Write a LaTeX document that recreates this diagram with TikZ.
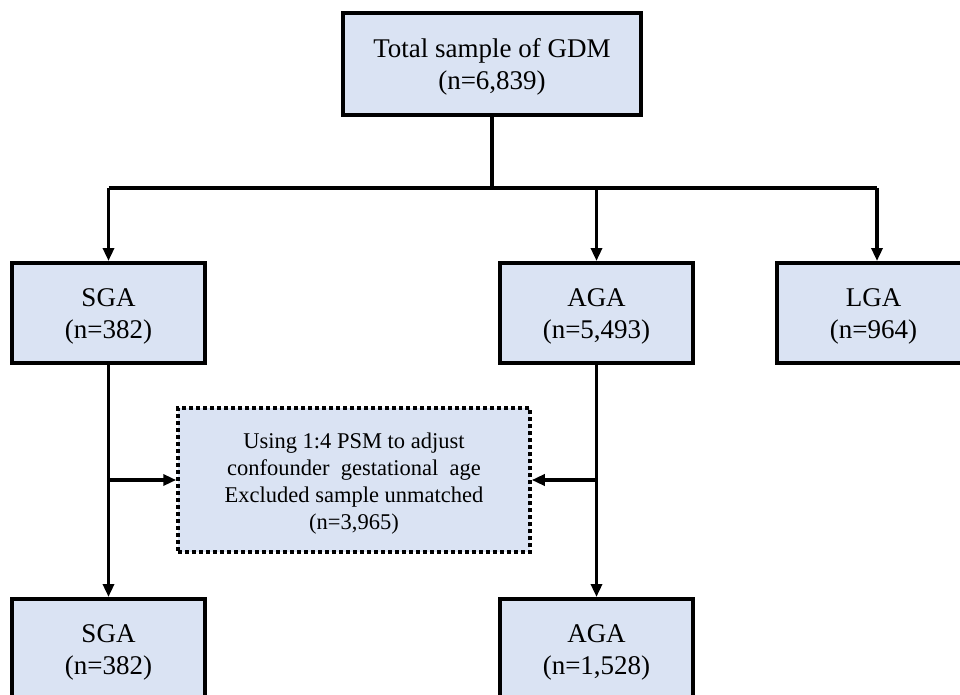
\documentclass[tikz,border=0pt]{standalone}
\usepackage{fontspec}
\setmainfont{Liberation Serif}
\usetikzlibrary{arrows.meta}
\definecolor{boxfill}{HTML}{DAE3F3}
\newcommand{\boxtxt}[1]{\raisebox{-3.5pt}[\height][\depth]{\begin{tabular}{@{}c@{}}#1\end{tabular}}}
\tikzset{
  box/.style={draw=black, line width=4pt, fill=boxfill, rectangle, inner sep=0pt,
    minimum width=193pt, minimum height=100pt, align=center,
    font=\fontsize{27}{32}\selectfont},
  psmbox/.style={draw=black, line width=3.5pt, dash pattern=on 4pt off 3pt, fill=boxfill,
    rectangle, inner sep=0pt, minimum width=352pt, minimum height=144pt, align=center,
    font=\fontsize{22.5}{27}\selectfont},
  conn/.style={line width=3.5pt},
  arr/.style={line width=3.5pt, -{Triangle[length=13pt,width=11pt]}}
}
\begin{document}
\begin{tikzpicture}[x=1pt,y=-1pt]
\clip (0,0) rectangle (960,695);
\node[box, minimum width=298pt, minimum height=102pt] (top) at (492,64) {\boxtxt{Total sample of GDM\\(n=6,839)}};
\node[box] (sga1) at (108.5,313) {\boxtxt{SGA\\(n=382)}};
\node[box] (aga1) at (596.5,313) {\boxtxt{AGA\\(n=5,493)}};
\node[box] (lga) at (873.5,313) {\boxtxt{LGA\\(n=964)}};
\node[psmbox] (psm) at (354,480) {\boxtxt{Using 1:4 PSM to adjust\\confounder\ \ gestational\ \ age\\Excluded sample unmatched\\(n=3,965)}};
\node[box] (sga2) at (108.5,649) {\boxtxt{SGA\\(n=382)}};
\node[box] (aga2) at (596.5,649) {\boxtxt{AGA\\(n=1,528)}};
\coordinate (j) at (492,188);
\coordinate (jl) at (108.5,188);
\coordinate (jr) at (877,188);
\draw[conn] (top.south) -- (j);
\draw[conn] (jl) -- (jr);
\draw[arr] (jl) -- (sga1.north);
\draw[arr] (aga1.north |- j) -- (aga1.north);
\draw[arr] (jr) -- (jr |- lga.north);
\draw[arr] (sga1.south) -- (sga2.north);
\draw[arr] (aga1.south) -- (aga2.north);
\draw[arr] (sga1.south |- psm.west) -- (psm.west);
\draw[arr] (aga1.south |- psm.east) -- (psm.east);
\end{tikzpicture}
\end{document}
